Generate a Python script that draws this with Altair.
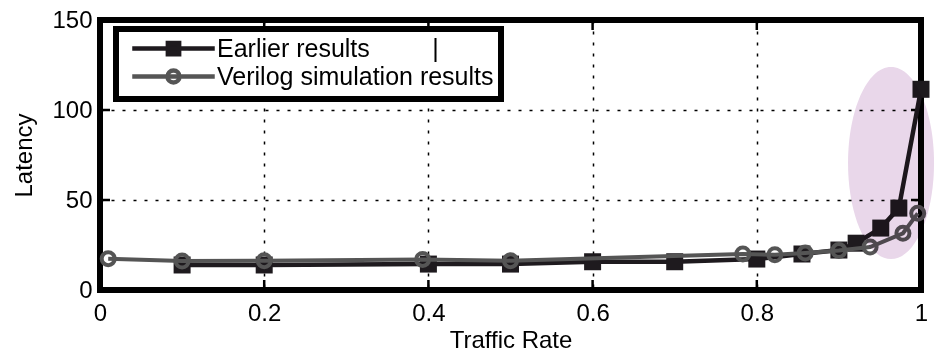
import altair as alt
import pandas as pd

FONT = "Liberation Sans"

# Series
SERIES = ["Earlier results", "Verilog simulation results"]

earlier_rate = [0.1, 0.2, 0.4, 0.5, 0.6, 0.7, 0.8, 0.855, 0.9, 0.921, 0.951, 0.973, 1.0]
earlier_latency = [13.9, 13.9, 14.4, 14.4, 15.7, 15.7, 17.2, 20.0, 22.2, 26.0, 34.4, 45.5, 111.5]

verilog_rate = [0.01, 0.1, 0.2, 0.393, 0.5, 0.783, 0.822, 0.859, 0.9, 0.938, 0.978, 0.996]
verilog_latency = [17.4, 16.1, 16.3, 17.0, 16.3, 20.0, 19.6, 20.5, 21.9, 23.9, 31.5, 42.6]

# Axis ticks
x_ticks = [0, 0.2, 0.4, 0.6, 0.8, 1]
y_ticks = [0, 50, 100, 150]

# Highlighted region (centre of the shaded ellipse, in data units)
highlight_rate = [0.9635]
highlight_latency = [70.5]

EARLIER_COLOR = "#1e1a1e"
VERILOG_COLOR = "#555555"
ELLIPSE_COLOR = "#e9d7ea"

W, H = 821, 270

earlier = pd.DataFrame({"rate": earlier_rate, "latency": earlier_latency, "series": SERIES[0]})
verilog = pd.DataFrame({"rate": verilog_rate, "latency": verilog_latency, "series": SERIES[1]})
both = pd.concat([earlier, verilog], ignore_index=True)

x_scale = alt.Scale(domain=[0, 1], nice=False, zero=False)
y_scale = alt.Scale(domain=[0, 150], nice=False)

axis_style = dict(
    grid=True, gridDash=[3, 8], gridColor="black", gridWidth=1.5, gridOpacity=1,
    domain=False, ticks=False, tickSize=0,
    labelFont=FONT, labelFontSize=24, labelColor="black",
    titleFont=FONT, titleFontSize=24, titleFontWeight="normal", titleColor="black",
)
x_axis = alt.Axis(values=x_ticks, format="~g", labelFlush=False, labelPadding=11,
                  titlePadding=3, **axis_style)
y_axis = alt.Axis(values=y_ticks, format="d", labelPadding=8, titlePadding=15, **axis_style)


def X(field="rate"):
    return alt.X(f"{field}:Q", scale=x_scale, axis=x_axis, title="Traffic Rate")


def Y(field="latency"):
    return alt.Y(f"{field}:Q", scale=y_scale, axis=y_axis, title="Latency")


# Data lines and markers
earlier_line = alt.Chart(earlier).mark_line(color=EARLIER_COLOR, strokeWidth=4.5).encode(x=X(), y=Y())
earlier_pts = alt.Chart(earlier).mark_point(
    shape="square", filled=True, color=EARLIER_COLOR, size=289, opacity=1
).encode(x=X(), y=Y())
verilog_line = alt.Chart(verilog).mark_line(color=VERILOG_COLOR, strokeWidth=4).encode(x=X(), y=Y())
verilog_pts = alt.Chart(verilog).mark_point(
    shape="circle", filled=False, color=VERILOG_COLOR, size=169, strokeWidth=4, opacity=1
).encode(x=X(), y=Y())

# Inward tick marks on all four sides
xt = pd.DataFrame({"rate": x_ticks})
yt = pd.DataFrame({"latency": y_ticks})
tick_style = dict(color="black", strokeWidth=2.5)
ticks_bottom = alt.Chart(xt).mark_rule(**tick_style).encode(x=X(), y=alt.value(H), y2=alt.value(H - 10))
ticks_top = alt.Chart(xt).mark_rule(**tick_style).encode(x=X(), y=alt.value(0), y2=alt.value(10))
ticks_left = alt.Chart(yt).mark_rule(**tick_style).encode(y=Y(), x=alt.value(0), x2=alt.value(10))
ticks_right = alt.Chart(yt).mark_rule(**tick_style).encode(y=Y(), x=alt.value(W), x2=alt.value(W - 10))

# Legend: symbols drawn as a line segment with the series marker on it
LEGEND_PATHS = [
    "M-5.5,0L5.5,0M-0.75,-0.75L0.75,-0.75L0.75,0.75L-0.75,0.75Z",
    "M-5.5,0L5.5,0M-0.8,0A0.8,0.8,0,1,1,0.8,0A0.8,0.8,0,1,1,-0.8,0Z",
]
first_label = SERIES[0] + "\u00a0" * 9 + "|"
legend = alt.Legend(
    title=None, orient="none", legendX=16, legendY=9, direction="vertical",
    fillColor="white", strokeColor="black", padding=7, rowPadding=-6,
    labelFont=FONT, labelFontSize=25, labelColor="black", labelLimit=600,
    labelOffset=31, symbolOffset=38, symbolSize=225, symbolStrokeWidth=4.5,
    labelExpr=f"datum.label == '{SERIES[0]}' ? '{first_label}' : datum.label",
)
legend_layer = alt.Chart(both).transform_filter("false").mark_point(
    filled=True, strokeWidth=4.5, opacity=1
).encode(
    x=X(), y=Y(),
    shape=alt.Shape("series:N", scale=alt.Scale(domain=SERIES, range=LEGEND_PATHS), legend=legend),
    fill=alt.Fill("series:N", scale=alt.Scale(domain=SERIES, range=[EARLIER_COLOR, "transparent"]), legend=legend),
    stroke=alt.Stroke("series:N", scale=alt.Scale(domain=SERIES, range=[EARLIER_COLOR, VERILOG_COLOR]), legend=legend),
)

# Shaded ellipse marking the saturation region
ELLIPSE_PATH = "M-0.448,0A0.448,1,0,1,1,0.448,0A0.448,1,0,1,1,-0.448,0Z"
highlight = alt.Chart(
    pd.DataFrame({"rate": highlight_rate, "latency": highlight_latency})
).mark_point(
    shape=ELLIPSE_PATH, size=36864, filled=True, color=ELLIPSE_COLOR, opacity=1,
    strokeWidth=0, blend="multiply",
).encode(x=X(), y=Y())

chart = alt.layer(
    ticks_bottom, ticks_top, ticks_left, ticks_right,
    earlier_line, earlier_pts, verilog_line, verilog_pts,
    legend_layer, highlight,
).properties(
    width=W, height=H,
    padding={"left": 100, "top": 20, "right": 16, "bottom": 62},
    autosize=alt.AutoSizeParams(type="none"),
    background="white",
).configure(font=FONT).configure_view(
    stroke="black", strokeWidth=6
).configure_legend(strokeWidth=6)

chart.save("out.html", embed_options={"renderer": "svg", "actions": False})
